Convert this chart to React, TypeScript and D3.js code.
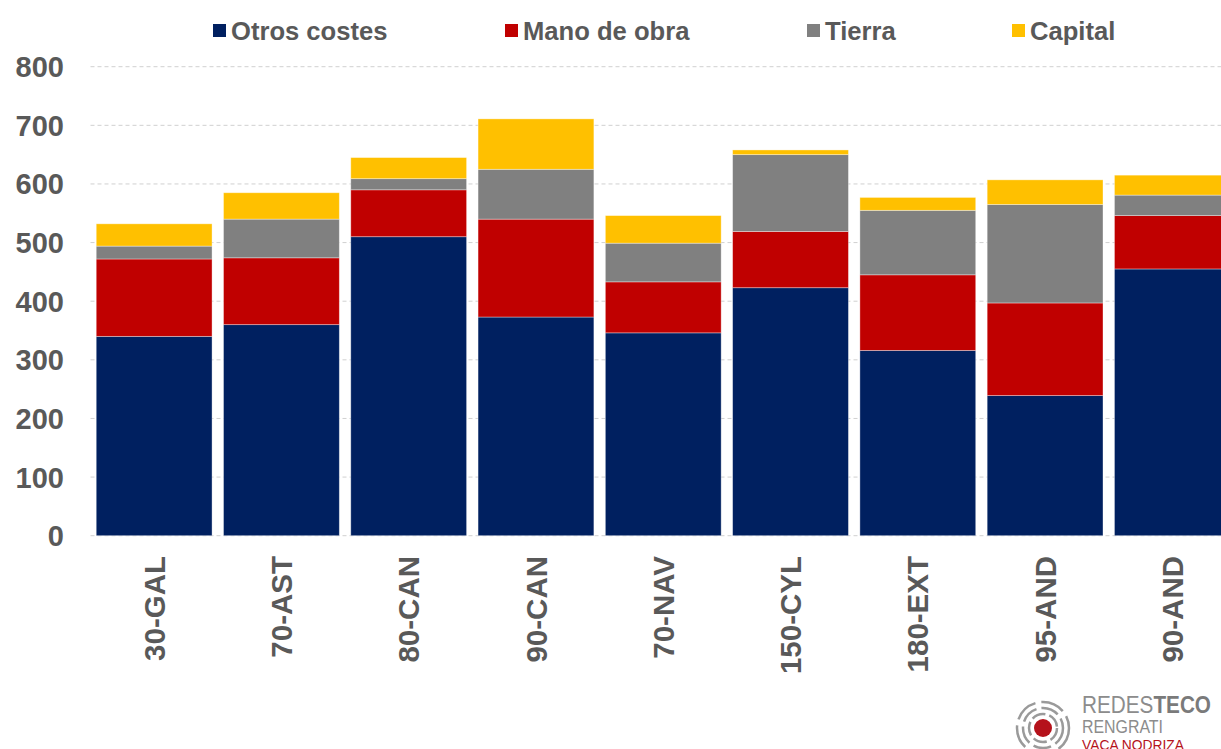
import React from 'react';
import * as d3 from 'd3';

// categories + series
const categories = ['30-GAL', '70-AST', '80-CAN', '90-CAN', '70-NAV', '150-CYL', '180-EXT', '95-AND', '90-AND'];
const otrosCostes = [340, 360, 510, 373, 346, 423, 316, 239, 455];
const manoDeObra = [132, 114, 80, 167, 87, 96, 129, 158, 91];
const tierra = [22, 66, 19, 85, 66, 131, 110, 168, 35];
const capital = [38, 45, 36, 86, 47, 8, 22, 42, 34];
const yTicks = [0, 100, 200, 300, 400, 500, 600, 700, 800];

const seriesNames = ['Otros costes', 'Mano de obra', 'Tierra', 'Capital'];
const seriesColors = ['#002060', '#C00000', '#808080', '#FFC000'];
const legendX = [213, 505, 807, 1012];

const W = 1221;
const H = 749;
const textColor = '#595959';
const font = '"Liberation Sans", Arial, sans-serif';

export default function App() {
  const rows = categories.map((c, i) => ({
    cat: c,
    'Otros costes': otrosCostes[i],
    'Mano de obra': manoDeObra[i],
    'Tierra': tierra[i],
    'Capital': capital[i],
  }));

  const stack = d3.stack<any>().keys(seriesNames);
  const layers = stack(rows);

  const x = d3.scaleBand()
    .domain(categories)
    .range([90.5, 1236])
    .paddingInner(0.09)
    .paddingOuter(0.045);

  const y = d3.scaleLinear().domain([0, 800]).range([535.7, 66.7]);

  return (
    <svg width={W} height={H} style={{ position: 'absolute', left: 0, top: 0, background: '#fff' }} fontFamily={font}>
      {/* grid */}
      {yTicks.map(t => (
        <line key={'g' + t} x1={90.5} x2={W} y1={y(t)} y2={y(t)}
          stroke="#d0d0d0" strokeWidth={1} strokeDasharray="4,3" />
      ))}

      {/* stacked bars */}
      {layers.map((layer, li) => (
        <g key={layer.key} fill={seriesColors[li]}>
          {layer.map((d, i) => (
            <rect key={i}
              x={x(categories[i])}
              y={y(d[1])}
              width={x.bandwidth()}
              height={y(d[0]) - y(d[1])}
              stroke="#ffffff" strokeOpacity={0.45} strokeWidth={0.8} />
          ))}
        </g>
      ))}

      {/* y ticks */}
      {yTicks.map(t => (
        <text key={'y' + t} x={64} y={y(t)} dy="0.36em" textAnchor="end"
          fontSize={29} fontWeight="bold" fill={textColor}>{t}</text>
      ))}

      {/* x labels */}
      {categories.map(c => {
        const cx = (x(c) as number) + x.bandwidth() / 2;
        return (
          <text key={'x' + c} transform={`translate(${cx},556) rotate(-90)`}
            dy="0.36em" textAnchor="end" fontSize={29.5} fontWeight="bold" fill={textColor}>{c}</text>
        );
      })}

      {/* legend */}
      {seriesNames.map((s, i) => (
        <g key={'l' + s} transform={`translate(${legendX[i]},24)`}>
          <rect width={13} height={13} fill={seriesColors[i]} />
          <text x={18} y={6.5} dy="0.36em" fontSize={25.6} fontWeight="bold" fill={textColor}>{s}</text>
        </g>
      ))}

      {/* logo */}
      <g transform="translate(1043,728)">
        {[14, 20, 26].map((r, i) => (
          <circle key={r} r={r} fill="none" stroke="#9a9a9a" strokeWidth={2.5}
            strokeDasharray={i === 0 ? '14,4' : i === 1 ? '18,5' : '24,6'} />
        ))}
        <circle r={9} fill="#b5121b" />
      </g>
      <text x={1082} y={713} fontSize={24} fill="#8c8c8c" textLength={129} lengthAdjust="spacingAndGlyphs">
        REDES<tspan fontWeight="bold" fill="#7a7a7a">TECO</tspan>
      </text>
      <text x={1082} y={733} fontSize={18} fill="#8c8c8c" textLength={81} lengthAdjust="spacingAndGlyphs">RENGRATI</text>
      <text x={1082} y={750} fontSize={14} fill="#b5121b" textLength={102} lengthAdjust="spacingAndGlyphs">VACA NODRIZA</text>
    </svg>
  );
}
